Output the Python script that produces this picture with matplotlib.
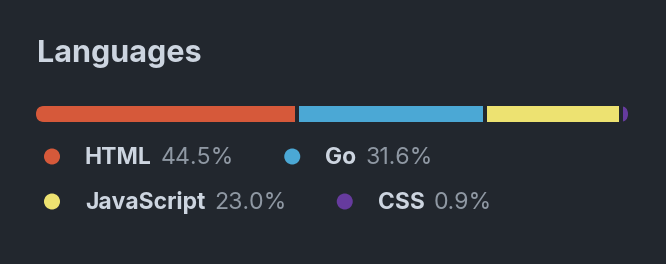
import matplotlib
matplotlib.use("Agg")
import matplotlib.pyplot as plt
from matplotlib.patches import FancyBboxPatch, Rectangle, Circle

languages = ["HTML", "Go", "JavaScript", "CSS"]
percents = [44.5, 31.6, 23.0, 0.9]
colors = ["#d6593a", "#4ba8d5", "#ede271", "#663b9e"]
rows = [[0, 1], [2, 3]]
title = "Languages"

BG = "#22272e"
FG = "#cdd5e0"
MUTED = "#8f98a3"
FONT = "Inter"

W, H = 666, 264
fig = plt.figure(figsize=(W / 100, H / 100), dpi=100, facecolor=BG)
ax = fig.add_axes([0, 0, 1, 1])
ax.set_xlim(0, W)
ax.set_ylim(H, 0)
ax.axis("off")
ax.set_facecolor(BG)

ax.text(37, 62, title, color=FG, fontsize=22, fontweight="bold",
        family=FONT, va="baseline", ha="left")

# progress bar
x0, x1, y0, bh, gap = 36, 628, 106, 16, 4
total_w = x1 - x0
clip = FancyBboxPatch((x0, y0), total_w, bh,
                      boxstyle="round,pad=0,rounding_size=8",
                      transform=ax.transData, facecolor="none", edgecolor="none")
ax.add_patch(clip)
cum = x0
tot = sum(percents)
for i, (p, c) in enumerate(zip(percents, colors)):
    w = p / tot * total_w
    last = i == len(percents) - 1
    seg_w = w if last else w - gap
    if last:
        seg_w = max(seg_w, x1 - cum)
    r = Rectangle((cum, y0), seg_w, bh, facecolor=c, edgecolor="none")
    ax.add_patch(r)
    r.set_clip_path(clip)
    cum += w

# legend (flow layout)
fig.canvas.draw()
renderer = fig.canvas.get_renderer()
inv = ax.transData.inverted()

def width_of(t):
    bb = t.get_window_extent(renderer=renderer)
    a = inv.transform((bb.x0, bb.y0))
    b = inv.transform((bb.x1, bb.y1))
    return b[0] - a[0]

baselines = [164, 209]
for r_i, row in enumerate(rows):
    xcur = 44
    base = baselines[r_i]
    for idx in row:
        ax.add_patch(Circle((xcur + 8, base - 7.5), 8, facecolor=colors[idx],
                            edgecolor="none"))
        lx = xcur + 41
        t1 = ax.text(lx, base, languages[idx], color=FG, fontsize=16.5,
                     fontweight="bold", family=FONT, va="baseline", ha="left")
        w1 = width_of(t1)
        px = lx + w1 + 9
        t2 = ax.text(px, base, f"{percents[idx]:.1f}%", color=MUTED, fontsize=16.7,
                     family=FONT, va="baseline", ha="left")
        w2 = width_of(t2)
        xcur = px + w2 + 50

fig.savefig("out.png", dpi=100, facecolor=BG)
